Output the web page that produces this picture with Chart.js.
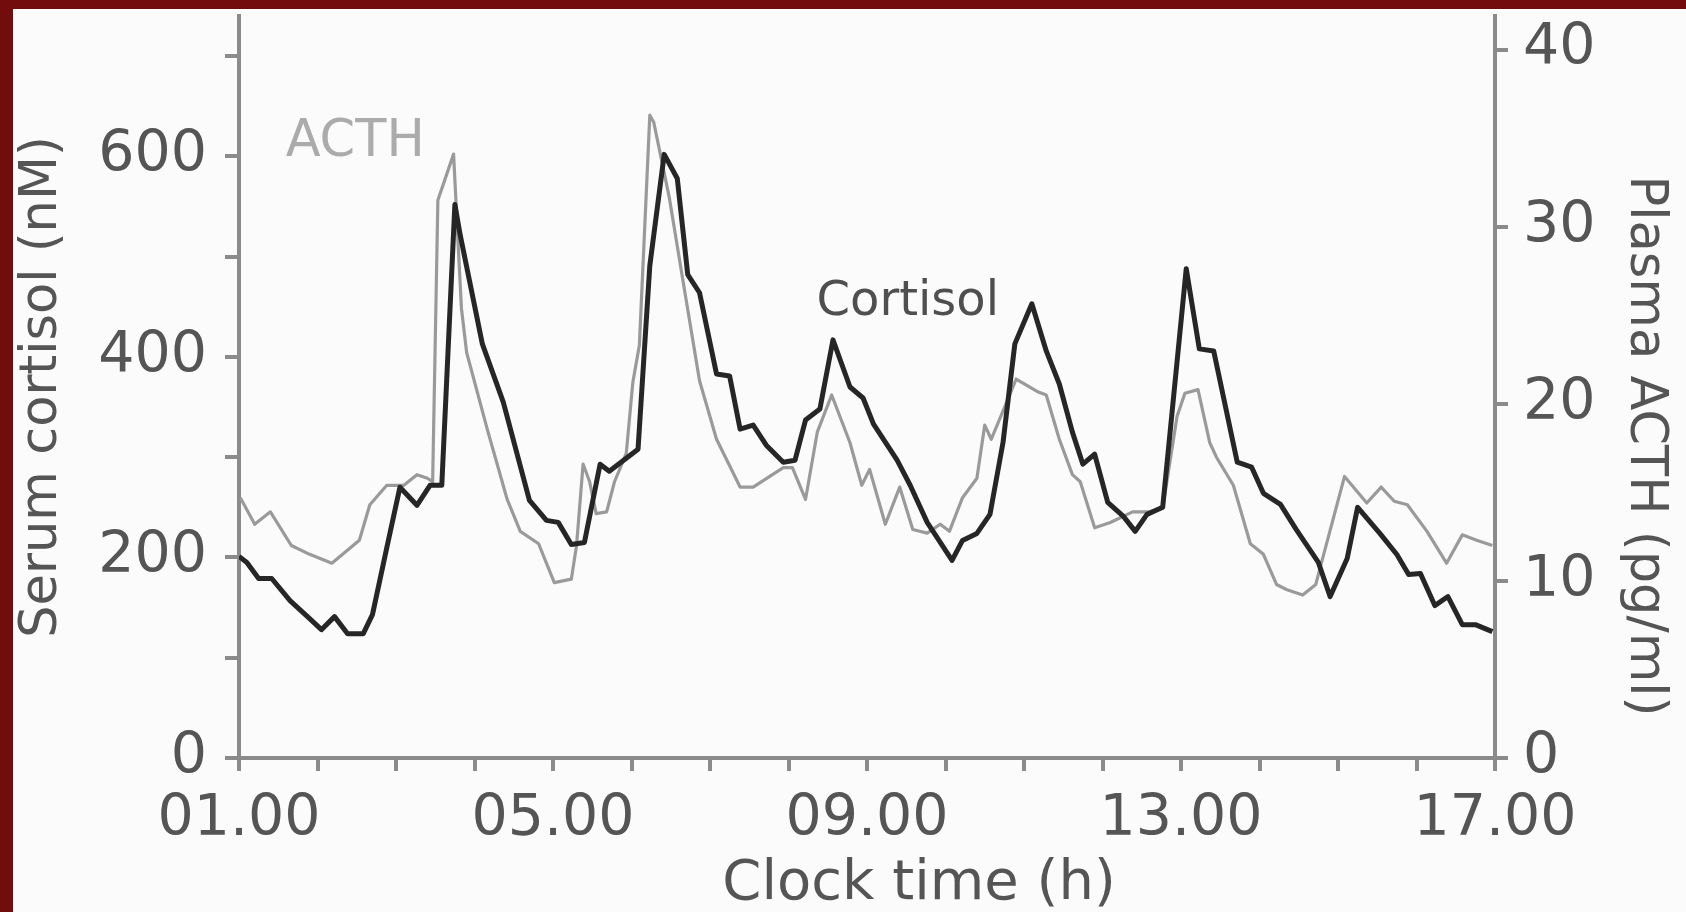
<!DOCTYPE html>
<html>
<head>
<meta charset="utf-8">
<script src="https://cdn.jsdelivr.net/npm/chart.js@4.4.1/dist/chart.umd.min.js"></script>
<style>
  html, body { margin: 0; padding: 0; background: #fbfbfb; }
  #wrap { position: relative; width: 1686px; height: 912px; overflow: hidden; }
  #chart { position: absolute; left: 0; top: 0; }
  #frameTop  { position: absolute; left: 0; top: 0; width: 1686px; height: 9px; background: #730c0c; }
  #frameLeft { position: absolute; left: 0; top: 0; width: 13px; height: 912px; background: #730c0c; }
</style>
</head>
<body>
<div id="wrap">
  <canvas id="chart" width="1686" height="912"></canvas>
  <div id="frameTop"></div>
  <div id="frameLeft"></div>
</div>
<script>
// minutes after 01.00 and serum cortisol (nM)
const cortisolMin = [0, 6, 15, 25, 39, 54, 63, 73, 83, 95, 102, 113, 123, 136, 146, 155,
  165, 169, 186, 202, 222, 235, 244, 254, 264, 276, 283, 305, 314, 325, 335, 343, 352,
  365, 375, 383, 393, 403, 416, 425, 433, 444, 454, 467, 477, 485, 503, 513, 526, 545,
  553, 564, 574, 584, 593, 606, 617, 627, 637, 645, 654, 664, 676, 685, 694, 706, 724,
  734, 745, 763, 774, 783, 796, 808, 825, 834, 847, 855, 872, 885, 894, 903, 914, 924,
  935, 945, 958];
const cortisolNM = [201, 195, 179, 179, 157, 139, 128, 141, 124, 124, 143, 210, 270, 252, 272, 272,
  552, 522, 413, 355, 257, 237, 235, 213, 215, 293, 286, 308, 491, 602, 578, 482, 464,
  383, 381, 328, 332, 312, 295, 297, 337, 348, 417, 370, 359, 333, 297, 272, 235, 197,
  217, 224, 243, 315, 413, 453, 406, 373, 325, 293, 303, 255, 241, 226, 243, 250, 488,
  408, 406, 295, 290, 264, 253, 228, 195, 161, 199, 250, 224, 203, 183, 184, 152, 161,
  133, 133, 126];

// minutes after 01.00 and plasma ACTH (pg/ml)
const acthMin = [1, 12, 24, 40, 54, 71, 92, 100, 113, 126, 136, 144, 148, 152, 164, 170,
  174, 190, 205, 215, 229, 241, 254, 258, 263, 268, 273, 281, 287, 296, 301, 306, 314,
  317, 329, 339, 352, 365, 383, 393, 416, 423, 433, 442, 453, 467, 476, 482, 494, 505,
  515, 526, 536, 543, 553, 564, 570, 575, 594, 610, 617, 627, 637, 643, 654, 666, 683,
  696, 706, 717, 723, 733, 742, 747, 760, 773, 783, 793, 801, 813, 823, 828, 845, 862,
  873, 883, 893, 908, 923, 935, 946, 958];
const acthPG = [14.7, 13.2, 13.9, 12.0, 11.5, 11.0, 12.3, 14.3, 15.4, 15.4, 16.0, 15.8, 15.6, 31.5, 34.1, 25.4,
  22.9, 18.5, 14.6, 12.8, 12.1, 9.9, 10.1, 12.0, 16.6, 15.6, 13.8, 13.9, 15.6, 17.2, 21.2, 23.3, 36.3,
  35.9, 31.6, 27.1, 21.3, 18.0, 15.3, 15.3, 16.4, 16.4, 14.6, 18.4, 20.5, 17.8, 15.4, 16.3, 13.2, 15.3,
  12.9, 12.7, 13.2, 12.8, 14.7, 15.8, 18.8, 18.0, 21.4, 20.7, 20.5, 18.0, 16.0, 15.6, 13.0, 13.3, 13.9,
  13.9, 14.1, 19.3, 20.6, 20.8, 17.8, 17.0, 15.4, 12.1, 11.5, 9.8, 9.5, 9.2, 9.8, 11.2, 15.9, 14.4,
  15.3, 14.5, 14.3, 12.8, 11.0, 12.6, 12.3, 12.0];

const hourTicks = [1, 5, 9, 13, 17];
const cortisolTicks = [0, 200, 400, 600];

const toPoints = (mins, vals) => mins.map((m, i) => ({ x: 1 + m / 60, y: vals[i] }));

const axisGrey = '#8b8b8b';
const textGrey = '#555555';
const FONT = '"DejaVu Sans", "Open Sans", sans-serif';

function fixBox(size, vertical) {
  return s => {
    if (vertical) { s.width = size; s.paddingTop = 0; s.paddingBottom = 0; }
    else { s.height = size; s.paddingLeft = 0; s.paddingRight = 0; }
  };
}

// series names, x title and right-hand axis title
const labelsPlugin = {
  id: 'labels',
  afterDatasetsDraw(chart) {
    const { ctx, scales: { x, y, y1 } } = chart;
    ctx.save();
    ctx.textAlign = 'center';
    ctx.textBaseline = 'middle';
    ctx.font = `51px ${FONT}`;
    ctx.fillStyle = '#ababab';
    ctx.fillText('ACTH', x.getPixelForValue(2.48), y.getPixelForValue(614));
    ctx.font = `48px ${FONT}`;
    ctx.fillStyle = '#4f4f4f';
    ctx.fillText('Cortisol', x.getPixelForValue(9.52), y.getPixelForValue(454));

    ctx.font = `56px ${FONT}`;
    ctx.fillStyle = textGrey;
    ctx.fillText('Clock time (h)', 919, 884);

    ctx.translate(y1.right - 42, 446);
    ctx.rotate(Math.PI / 2);
    ctx.font = `51px ${FONT}`;
    ctx.fillText('Plasma ACTH (pg/ml)', 0, 0);
    ctx.restore();
  }
};

new Chart(document.getElementById('chart'), {
  type: 'line',
  data: {
    datasets: [
      {
        label: 'Cortisol',
        data: toPoints(cortisolMin, cortisolNM),
        yAxisID: 'y',
        borderColor: '#262626',
        borderWidth: 5,
        pointRadius: 0,
        tension: 0,
        borderJoinStyle: 'round'
      },
      {
        label: 'ACTH',
        data: toPoints(acthMin, acthPG),
        yAxisID: 'y1',
        borderColor: '#9a9a9a',
        borderWidth: 3.2,
        pointRadius: 0,
        tension: 0,
        borderJoinStyle: 'round'
      }
    ]
  },
  options: {
    responsive: false,
    animation: false,
    devicePixelRatio: 1,
    layout: { padding: { top: 16, left: 0, right: 0, bottom: 0 } },
    plugins: { legend: { display: false }, tooltip: { enabled: false } },
    scales: {
      x: {
        type: 'linear',
        min: 1, max: 17,
        afterFit: fixBox(154, false),
        grid: { drawOnChartArea: false, color: axisGrey, lineWidth: 4, tickLength: 13 },
        border: { color: axisGrey, width: 4 },
        ticks: {
          stepSize: 1, autoSkip: false, maxRotation: 0, padding: 15,
          color: textGrey, font: { family: FONT, size: 57, lineHeight: 1.2 },
          callback: v => hourTicks.includes(v) ? String(v).padStart(2, '0') + '.00' : ''
        }
      },
      y: {
        position: 'left',
        min: 0, max: 740,
        afterFit: fixBox(239, true),
        grid: { drawOnChartArea: false, color: axisGrey, lineWidth: 4, tickLength: 14 },
        border: { color: axisGrey, width: 4 },
        ticks: {
          stepSize: 100, includeBounds: false, padding: 18,
          color: textGrey, font: { family: FONT, size: 57, lineHeight: 1.2 },
          callback: v => cortisolTicks.includes(v) ? String(v) : ''
        },
        title: {
          display: true, text: 'Serum cortisol (nM)', color: textGrey,
          font: { family: FONT, size: 51, lineHeight: 1.2 }, padding: { top: 12 }
        }
      },
      y1: {
        position: 'right',
        min: 0, max: 41.9,
        afterFit: fixBox(191, true),
        grid: { drawOnChartArea: false, color: axisGrey, lineWidth: 4, tickLength: 13 },
        border: { color: axisGrey, width: 4 },
        ticks: {
          stepSize: 10, includeBounds: false, padding: 15,
          color: textGrey, font: { family: FONT, size: 57, lineHeight: 1.2 }
        }
      }
    }
  },
  plugins: [labelsPlugin]
});
</script>
</body>
</html>
